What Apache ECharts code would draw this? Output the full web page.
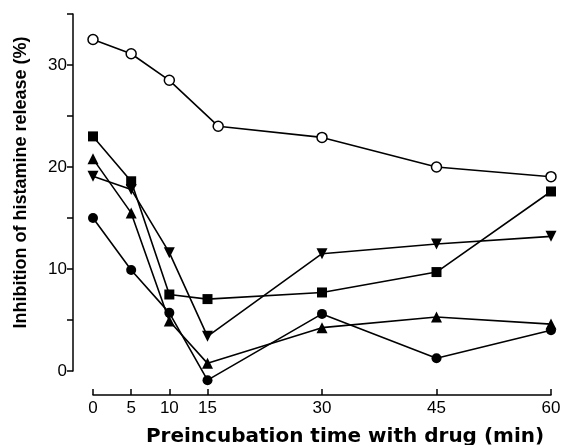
<!DOCTYPE html>
<html>
<head>
<meta charset="utf-8">
<script src="https://cdn.jsdelivr.net/npm/echarts@6/dist/echarts.min.js"></script>
<style>html,body{margin:0;padding:0;background:#fff}#c{width:563px;height:445px}</style>
</head>
<body>
<div id="c"></div>
<script>
var xTicks = [0, 5, 10, 15, 30, 45, 60];
var xOpen = [0, 5, 10, 16.4, 30, 45, 60];
var xStd = [0, 5, 10, 15, 30, 45, 60];
var openCircle = [32.5, 31.1, 28.5, 24.0, 22.9, 20.0, 19.05];
var filledSquare = [23.0, 18.6, 7.5, 7.05, 7.7, 9.7, 17.6];
var downTriangle = [19.1, 17.8, 11.6, 3.4, 11.5, 12.45, 13.2];
var upTriangle = [20.8, 15.5, 4.9, 0.75, 4.25, 5.3, 4.6];
var filledCircle = [15.0, 9.9, 5.7, -0.9, 5.6, 1.25, 4.0];

function pairs(xs, ys) { return xs.map(function (x, i) { return [x, ys[i]]; }); }

var font = 'Liberation Sans, Arial, sans-serif';
function mk(name, xs, ys, symbol, size, fill, rot) {
  return {
    name: name, type: 'line', data: pairs(xs, ys), clip: false,
    symbol: symbol, symbolSize: size, symbolRotate: rot || 0, showAllSymbol: true,
    lineStyle: { color: '#000', width: 1.6 },
    itemStyle: { color: fill, borderColor: '#000', borderWidth: fill === '#fff' ? 1.5 : 0 },
    z: fill === '#fff' ? 3 : 2,
    animation: false
  };
}

var chart = echarts.init(document.getElementById('c'), null, { renderer: 'canvas' });
chart.setOption({
  animation: false,
  backgroundColor: '#fff',
  grid: { left: 93, right: 12, top: 14, bottom: 74, containLabel: false, outerBoundsMode: 'none' },
  xAxis: {
    type: 'value', min: 0, max: 60, offset: 24,
    name: 'Preincubation time with drug (min)', nameLocation: 'middle', nameGap: 32,
    nameTextStyle: { fontFamily: 'DejaVu Sans', fontSize: 20, fontWeight: 'bold', color: '#000', padding: [0, 0, 0, 46] },
    axisLine: { show: true, onZero: false, lineStyle: { color: '#000', width: 1.5 } },
    axisTick: { show: true, inside: true, length: 6, customValues: xTicks, lineStyle: { color: '#000', width: 1.5 } },
    axisLabel: { customValues: xTicks, fontFamily: font, fontSize: 17, color: '#000', margin: 5 },
    splitLine: { show: false }
  },
  yAxis: {
    type: 'value', min: 0, max: 35, interval: 5, offset: 20,
    name: 'Inhibition of histamine release (%)', nameLocation: 'middle', nameGap: 43,
    nameTextStyle: { fontFamily: font, fontSize: 18, fontWeight: 'bold', color: '#000', padding: [0, 0, 0, 20] },
    axisLine: { show: true, onZero: false, lineStyle: { color: '#000', width: 1.5 } },
    axisTick: { show: true, inside: false, length: 6, lineStyle: { color: '#000', width: 1.5 } },
    axisLabel: { fontFamily: font, fontSize: 17, color: '#000', margin: 6,
      formatter: function (v) { return v % 10 === 0 ? String(v) : ''; } },
    splitLine: { show: false }
  },
  series: [
    mk('open', xOpen, openCircle, 'circle', 10, '#fff'),
    mk('square', xStd, filledSquare, 'rect', 10, '#000'),
    mk('down', xStd, downTriangle, 'triangle', 11, '#000', 180),
    mk('up', xStd, upTriangle, 'triangle', 11, '#000'),
    mk('filled', xStd, filledCircle, 'circle', 10, '#000')
  ]
});
</script>
</body>
</html>
